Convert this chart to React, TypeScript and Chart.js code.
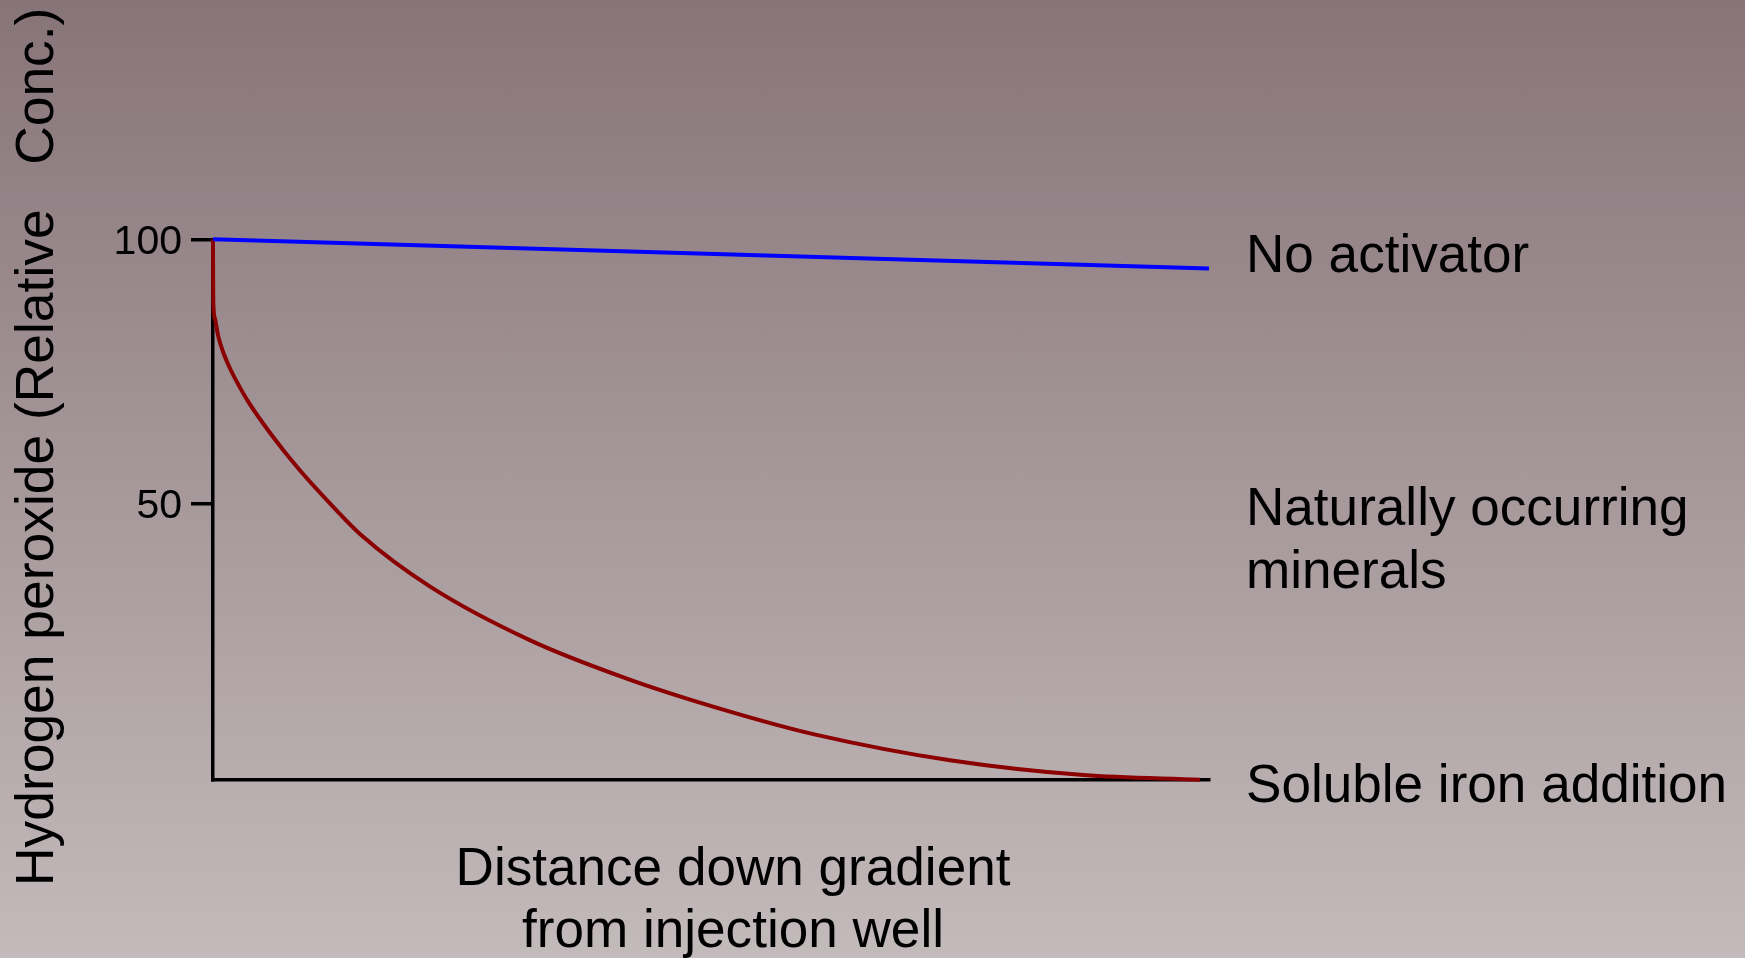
import React, { useEffect, useRef } from "react";
import { Chart, registerables } from "chart.js";

Chart.register(...registerables);

// ---- Data ----
const noActivatorX = [0, 100];
const noActivatorY = [100, 94.5];

const mineralsX = [0, 0.01, 0.03, 0.18, 0.5, 1.0, 1.71, 2.56, 3.55, 5.9, 8.57, 11.6, 14.9, 21.8, 31.8, 41.9, 51.9, 60.6, 74.0, 87.4, 99.1];
const mineralsY = [100, 94.6, 88.2, 85.1, 81.9, 78.8, 75.6, 72.5, 69.3, 63.0, 56.7, 50.4, 44.1, 34.4, 24.3, 16.8, 10.8, 6.4, 1.6, -1.2, -2.1];

const yMin = -2.13;
const yMax = 100;
const yTickValues = [50, 100];
const yAxisTitle = "Hydrogen peroxide (Relative   Conc.)";
const xAxisTitle = ["Distance down gradient", "from injection well"];
const seriesLabelsRight = [["No activator"], ["Naturally occurring", "minerals"], ["Soluble iron addition"]];

const FONT = '"Liberation Sans", Arial, sans-serif';

const textPlugin = {
  id: "textPlugin",
  afterDraw(chart: any) {
    const ctx = chart.ctx as CanvasRenderingContext2D;
    ctx.save();
    ctx.fillStyle = "#000000";
    ctx.font = `53.1px ${FONT}`;
    ctx.textBaseline = "alphabetic";

    // right-side labels
    ctx.textAlign = "left";
    const baselines = [[271.7], [525, 588.3], [801.7]];
    seriesLabelsRight.forEach((lines, i) => {
      lines.forEach((t, j) => ctx.fillText(t, 1246, baselines[i][j]));
    });

    // x axis title
    ctx.textAlign = "center";
    const xb = [885, 947];
    xAxisTitle.forEach((t, j) => ctx.fillText(t, 733, xb[j]));

    // y axis title
    ctx.save();
    ctx.font = `53.4px ${FONT}`;
    ctx.translate(53.3, 886);
    ctx.rotate(-Math.PI / 2);
    ctx.textAlign = "left";
    ctx.fillText(yAxisTitle, 0, 0);
    ctx.restore();

    ctx.restore();
  },
};

export default function App() {
  const canvasRef = useRef<HTMLCanvasElement | null>(null);

  useEffect(() => {
    const canvas = canvasRef.current;
    if (!canvas) return;
    const chart = new Chart(canvas, {
      type: "line",
      data: {
        datasets: [
          {
            label: "No activator",
            data: noActivatorX.map((x, i) => ({ x, y: noActivatorY[i] })),
            borderColor: "#0000ff",
            borderWidth: 4,
            pointRadius: 0,
            fill: false,
            tension: 0,
            clip: false as any,
          },
          {
            label: "Naturally occurring minerals / Soluble iron addition",
            data: mineralsX.map((x, i) => ({ x, y: mineralsY[i] })),
            borderColor: "#8b0000",
            borderWidth: 4,
            pointRadius: 0,
            fill: false,
            cubicInterpolationMode: "monotone",
            clip: false as any,
          },
        ],
      },
      options: {
        animation: false,
        responsive: false,
        maintainAspectRatio: false,
        layout: { padding: { top: 239.3, right: 536, bottom: 178, left: 0 } },
        plugins: {
          legend: { display: false },
          tooltip: { enabled: false },
          title: { display: false },
        },
        scales: {
          x: {
            type: "linear",
            min: 0,
            max: 100,
            ticks: { display: false },
            grid: { display: true, drawOnChartArea: false, drawTicks: false, lineWidth: 3.5, color: "#000" },
            border: { display: true, color: "#000000", width: 3.5 },
            afterFit: (scale: any) => {
              scale.height = 0;
            },
          },
          y: {
            type: "linear",
            min: yMin,
            max: yMax,
            afterBuildTicks: (scale: any) => {
              scale.ticks = yTickValues.map((v) => ({ value: v }));
            },
            ticks: {
              color: "#000000",
              font: { family: FONT, size: 41 },
              padding: 9,
              labelOffset: 3,
              callback: (v: any) => String(v),
            },
            grid: {
              display: true,
              drawOnChartArea: false,
              drawTicks: true,
              tickLength: 22,
              tickWidth: 3.5,
              tickColor: "#000000",
              color: "#000000",
              lineWidth: 3.5,
            },
            border: { display: true, color: "#000000", width: 3.5 },
            afterFit: (scale: any) => {
              scale.width = 213;
            },
          },
        },
      } as any,
      plugins: [textPlugin],
    });
    return () => chart.destroy();
  }, []);

  return (
    <div
      style={{
        position: "fixed",
        left: 0,
        top: 0,
        width: 1745,
        height: 958,
        background: "linear-gradient(to bottom, #877479 0%, #c3babb 100%)",
        overflow: "hidden",
      }}
    >
      <canvas ref={canvasRef} width={1745} height={958} style={{ display: "block", width: 1745, height: 958 }} />
    </div>
  );
}
